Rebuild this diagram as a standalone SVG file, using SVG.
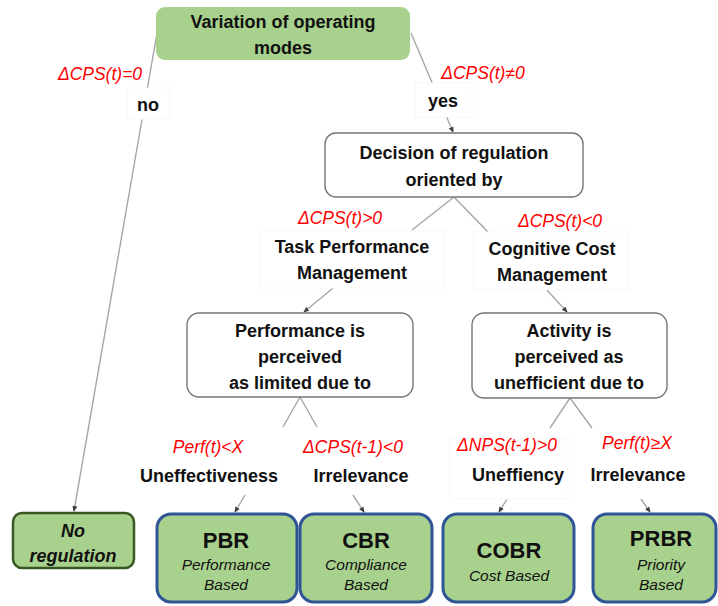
<svg xmlns="http://www.w3.org/2000/svg" width="718" height="606" viewBox="0 0 718 606">
<defs>
<marker id="arr" markerWidth="6" markerHeight="6" refX="5" refY="3" orient="auto" markerUnits="userSpaceOnUse">
<path d="M0,0.5 L6,3 L0,5.5 Z" fill="#404040"/>
</marker>
<style>
.lbl{font-family:"Liberation Sans",Arial,sans-serif;font-weight:bold;font-size:18px;fill:#111;text-anchor:middle}
.red{font-family:"Liberation Sans",Arial,sans-serif;font-style:italic;font-size:17.5px;fill:#ff0000;text-anchor:middle}
.con{stroke:#a6a6a6;stroke-width:1.4;fill:none}
.wbox{fill:#ffffff;stroke:#f7f7f7;stroke-width:1}
.node{fill:#ffffff;stroke:#767676;stroke-width:1.4}
.green{fill:#a9d18e}
.res{fill:#a9d18e;stroke:#2f5597;stroke-width:3}
.big{font-family:"Liberation Sans",Arial,sans-serif;font-weight:bold;font-size:22px;fill:#111;text-anchor:middle}
.sub{font-family:"Liberation Sans",Arial,sans-serif;font-style:italic;font-size:15.5px;fill:#111;text-anchor:middle}
</style>
</defs>
<rect width="718" height="606" fill="#ffffff"/>

<g id="connectors">
<line class="con" x1="157" y1="33" x2="74" y2="511" marker-end="url(#arr)"/>
<line class="con" x1="411" y1="33" x2="453" y2="132" marker-end="url(#arr)"/>
<line class="con" x1="454" y1="197" x2="412" y2="230"/>
<line class="con" x1="454" y1="197" x2="488" y2="232"/>
<line class="con" x1="333" y1="288" x2="304" y2="312" marker-end="url(#arr)"/>
<line class="con" x1="547" y1="290" x2="567" y2="312" marker-end="url(#arr)"/>
<line class="con" x1="300" y1="397" x2="283" y2="427"/>
<line class="con" x1="300" y1="397" x2="317" y2="427"/>
<line class="con" x1="570" y1="398" x2="550" y2="428"/>
<line class="con" x1="570" y1="398" x2="592" y2="428"/>
<line class="con" x1="245" y1="495" x2="235" y2="512" marker-end="url(#arr)"/>
<line class="con" x1="353" y1="495" x2="364" y2="512" marker-end="url(#arr)"/>
<line class="con" x1="507" y1="499" x2="499" y2="512" marker-end="url(#arr)"/>
<line class="con" x1="641" y1="499" x2="650" y2="512" marker-end="url(#arr)"/>
</g>

<g id="root">
<rect class="green" x="156" y="7" width="254" height="53" rx="9"/>
<text class="lbl" x="283" y="28" font-size="18.5">Variation of operating</text>
<text class="lbl" x="283" y="54" font-size="18.5">modes</text>
</g>

<g id="label-no">
<text class="red" x="100" y="80">ΔCPS(t)=0</text>
<rect class="wbox" x="127" y="88" width="43" height="31"/>
<text class="lbl" x="148" y="111">no</text>
</g>

<g id="label-yes">
<text class="red" x="483" y="79">ΔCPS(t)≠0</text>
<rect class="wbox" x="415" y="83" width="57" height="34"/>
<text class="lbl" x="443" y="107">yes</text>
</g>

<g id="decision">
<rect class="node" x="325" y="133" width="258" height="64" rx="11"/>
<text class="lbl" x="454" y="159" font-size="18.5">Decision of regulation</text>
<text class="lbl" x="454" y="186" font-size="18.5">oriented by</text>
</g>

<g id="task-perf">
<text class="red" x="340" y="224">ΔCPS(t)&gt;0</text>
<rect class="wbox" x="260" y="231" width="185" height="57"/>
<text class="lbl" x="352" y="253">Task Performance</text>
<text class="lbl" x="352" y="279">Management</text>
</g>

<g id="cog-cost">
<text class="red" x="560" y="227">ΔCPS(t)&lt;0</text>
<rect class="wbox" x="474" y="232" width="155" height="57"/>
<text class="lbl" x="552" y="255">Cognitive Cost</text>
<text class="lbl" x="552" y="281">Management</text>
</g>

<g id="perf-limited">
<rect class="node" x="187" y="313" width="226" height="84" rx="12"/>
<text class="lbl" x="300" y="337">Performance is</text>
<text class="lbl" x="300" y="363">perceived</text>
<text class="lbl" x="300" y="389">as limited due to</text>
</g>

<g id="activity">
<rect class="node" x="472" y="313" width="195" height="85" rx="12"/>
<text class="lbl" x="569" y="337">Activity is</text>
<text class="lbl" x="569" y="363">perceived as</text>
<text class="lbl" x="569" y="389">unefficient due to</text>
</g>

<g id="uneffectiveness">
<text class="red" x="208" y="453">Perf(t)&lt;X</text>
<text class="lbl" x="209" y="482">Uneffectiveness</text>
</g>

<g id="irrelevance-1">
<text class="red" x="353" y="453">ΔCPS(t-1)&lt;0</text>
<text class="lbl" x="361" y="482">Irrelevance</text>
</g>

<g id="uneffiency">
<rect class="wbox" x="450" y="438" width="118" height="61"/>
<text class="red" x="507" y="451">ΔNPS(t-1)&gt;0</text>
<text class="lbl" x="518" y="481">Uneffiency</text>
</g>

<g id="irrelevance-2">
<text class="red" x="637" y="449">Perf(t)≥X</text>
<text class="lbl" x="638" y="481">Irrelevance</text>
</g>

<g id="no-regulation">
<rect x="13" y="513" width="121" height="55" rx="9" fill="#a9d18e" stroke="#385723" stroke-width="2.5"/>
<text class="lbl" x="73" y="537" font-size="19" font-style="italic">No</text>
<text class="lbl" x="73" y="562" font-size="19" font-style="italic">regulation</text>
</g>

<g id="pbr">
<rect class="res" x="157" y="514" width="140" height="88" rx="14"/>
<text class="big" x="226" y="548">PBR</text>
<text class="sub" x="226" y="570">Performance</text>
<text class="sub" x="226" y="590">Based</text>
</g>

<g id="cbr">
<rect class="res" x="300" y="514" width="132" height="88" rx="14"/>
<text class="big" x="366" y="548">CBR</text>
<text class="sub" x="366" y="570">Compliance</text>
<text class="sub" x="366" y="590">Based</text>
</g>

<g id="cobr">
<rect class="res" x="443" y="514" width="131" height="88" rx="14"/>
<text class="big" x="509" y="558">COBR</text>
<text class="sub" x="509" y="581">Cost Based</text>
</g>

<g id="prbr">
<rect class="res" x="593" y="514" width="123" height="88" rx="14"/>
<text class="big" x="661" y="546">PRBR</text>
<text class="sub" x="661" y="570">Priority</text>
<text class="sub" x="661" y="590">Based</text>
</g>
</svg>
